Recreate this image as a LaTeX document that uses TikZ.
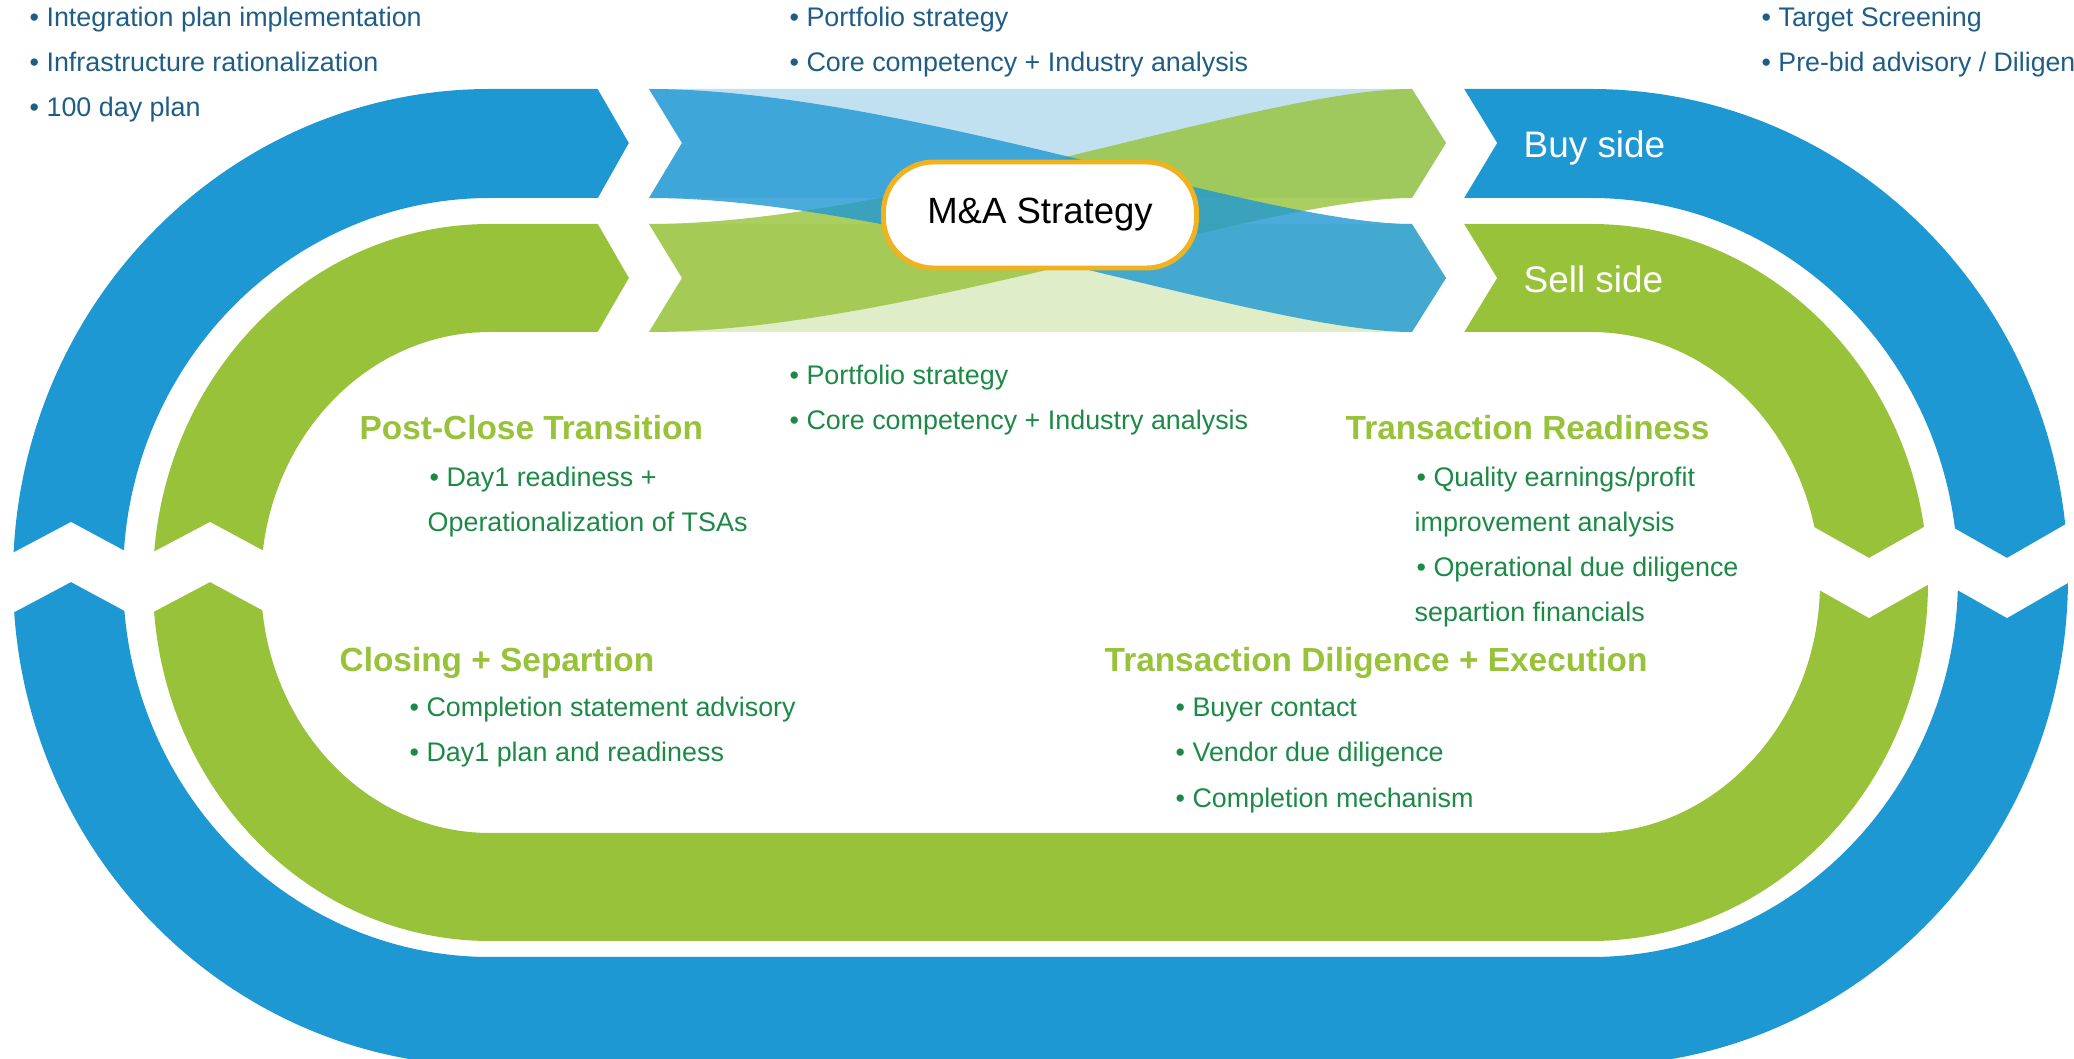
\documentclass[tikz,border=0pt]{standalone}
\usepackage{fontspec}
\setmainfont{Liberation Sans}
\usetikzlibrary{positioning}

\definecolor{ringblue}{RGB}{30,152,211}
\definecolor{ringgreen}{RGB}{151,194,57}
\definecolor{paleblue}{RGB}{193,225,241}
\definecolor{palegreen}{RGB}{224,237,201}
\definecolor{txtblue}{RGB}{30,94,134}
\definecolor{txtgreen}{RGB}{28,138,70}
\definecolor{gold}{RGB}{240,178,30}

\begin{document}
\begin{tikzpicture}[
    gap/.style = {fill=white},
    item/.style = {anchor=base west, inner sep=0pt, font=\fontsize{7.65}{9}\selectfont},
    topitem/.style = {item, text=txtblue},
    subitem/.style = {item, text=txtgreen},
    phase/.style = {anchor=base west, inner sep=0pt, text=ringgreen, font=\bfseries\fontsize{9.5}{11}\selectfont},
    side/.style = {anchor=base west, inner sep=0pt, text=white, font=\fontsize{10.5}{12}\selectfont},
    strategy/.style = {draw=gold, line width=1.4pt, fill=white, rounded corners=5mm,
        minimum width=3.13cm, minimum height=1.06cm, font=\fontsize{10.4}{12}\selectfont}]
    \useasboundingbox (0,0) rectangle (20.74,10.59);
    \clip (0,0) rectangle (20.74,10.59);

    % the two rings
    \fill[ringblue, even odd rule]
        (4.90,9.70) -- (15.91,9.70) arc[start angle=90, end angle=-90, x radius=4.77, y radius=4.885]
        -- (4.90,-0.07) arc[start angle=270, end angle=90, x radius=4.77, y radius=4.885] -- cycle
        (4.90,8.61) -- (15.91,8.61) arc[start angle=90, end angle=-90, x radius=3.67, y radius=3.795]
        -- (4.90,1.02) arc[start angle=270, end angle=90, x radius=3.67, y radius=3.795] -- cycle;
    \fill[ringgreen, even odd rule]
        (4.90,8.35) -- (15.91,8.35) arc[start angle=90, end angle=-90, x radius=3.37, y radius=3.585]
        -- (4.90,1.18) arc[start angle=270, end angle=90, x radius=3.37, y radius=3.585] -- cycle
        (4.90,7.27) -- (15.91,7.27) arc[start angle=90, end angle=-90, x radius=2.29, y radius=2.505]
        -- (4.90,2.26) arc[start angle=270, end angle=90, x radius=2.29, y radius=2.505] -- cycle;

    % chevron cuts
    \fill[gap] (-0.10,4.94) -- (0.71,5.37) -- (1.36,5.02) -- (1.36,4.42) -- (0.71,4.77) -- (-0.10,4.34) -- cycle;
    \fill[gap] (1.40,5.00) -- (2.10,5.37) -- (2.75,5.02) -- (2.75,4.42) -- (2.10,4.77) -- (1.40,4.40) -- cycle;
    \fill[gap] (18.05,5.37) -- (18.69,5.01) -- (19.40,5.41) -- (19.40,4.81) -- (18.69,4.41) -- (18.05,4.77) -- cycle;
    \fill[gap] (19.45,5.36) -- (20.07,5.01) -- (20.80,5.43) -- (20.80,4.83) -- (20.07,4.41) -- (19.45,4.76) -- cycle;
    \fill[gap] (5.92,9.80) -- (6.29,9.16) -- (5.98,8.61) -- (5.98,8.35) -- (6.29,7.81) -- (5.92,7.17)
        -- (14.58,7.17) -- (14.97,7.81) -- (14.64,8.35) -- (14.64,8.61) -- (14.97,9.16) -- (14.58,9.80) -- cycle;

    % crossing ribbons
    \fill[paleblue] (6.49,9.70) -- (14.12,9.70) -- (14.46,9.16) -- (14.12,8.61) -- (6.49,8.61) -- (6.82,9.16) -- cycle;
    \fill[palegreen] (6.49,8.35) -- (14.12,8.35) -- (14.46,7.81) -- (14.12,7.27) -- (6.49,7.27) -- (6.82,7.81) -- cycle;
    \fill[ringgreen, fill opacity=0.8] (6.49,7.27) -- (6.82,7.81) -- (6.49,8.35)
        .. controls (9.00,8.35) and (12.60,9.70) .. (14.12,9.70) -- (14.46,9.16) -- (14.12,8.61)
        .. controls (12.60,8.61) and (9.00,7.27) .. (6.49,7.27) -- cycle;
    \fill[ringblue, fill opacity=0.8] (6.49,9.70) -- (6.82,9.16) -- (6.49,8.61)
        .. controls (9.00,8.61) and (12.60,7.27) .. (14.12,7.27) -- (14.46,7.81) -- (14.12,8.35)
        .. controls (12.60,8.35) and (9.00,9.70) .. (6.49,9.70) -- cycle;

    \node[strategy] (strat) at (10.40,8.44) {M\&A Strategy};
    \node[side] (buy) at (15.23,9.01) {Buy side};
    \node[side] (sell) at (15.23,7.66) {Sell side};

    \node[topitem] (int1) at (0.29,10.32) {• Integration plan implementation};
    \node[topitem] (int2) at (0.29,9.87) {• Infrastructure rationalization};
    \node[topitem] (int3) at (0.29,9.42) {• 100 day plan};
    \node[topitem] (buy1) at (7.89,10.32) {• Portfolio strategy};
    \node[topitem] (buy2) at (7.89,9.87) {• Core competency + Industry analysis};
    \node[topitem] (scr1) at (17.61,10.32) {• Target Screening};
    \node[topitem, font=\fontsize{7.6}{9}\selectfont] (scr2) at (17.61,9.87) {• Pre-bid advisory / Diligen};

    \node[subitem] (sell1) at (7.89,6.74) {• Portfolio strategy};
    \node[subitem] (sell2) at (7.89,6.29) {• Core competency + Industry analysis};

    \node[phase] (post) at (3.59,6.19) {Post-Close Transition};
    \node[subitem] (post1) at (4.29,5.72) {• Day1 readiness +};
    \node[subitem] (post2) at (4.27,5.27) {Operationalization of TSAs};

    \node[phase] (ready) at (13.45,6.19) {Transaction Readiness};
    \node[subitem] (ready1) at (14.16,5.72) {• Quality earnings/profit};
    \node[subitem] (ready2) at (14.14,5.27) {improvement analysis};
    \node[subitem] (ready3) at (14.16,4.82) {• Operational due diligence};
    \node[subitem] (ready4) at (14.14,4.37) {separtion financials};

    \node[phase] (close) at (3.39,3.87) {Closing + Separtion};
    \node[subitem] (close1) at (4.09,3.42) {• Completion statement advisory};
    \node[subitem] (close2) at (4.09,2.97) {• Day1 plan and readiness};

    \node[phase] (exec) at (11.04,3.87) {Transaction Diligence + Execution};
    \node[subitem] (exec1) at (11.75,3.42) {• Buyer contact};
    \node[subitem] (exec2) at (11.75,2.97) {• Vendor due diligence};
    \node[subitem] (exec3) at (11.75,2.51) {• Completion mechanism};
\end{tikzpicture}
\end{document}
